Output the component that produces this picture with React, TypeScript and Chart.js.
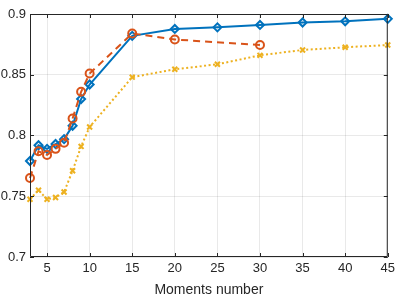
import React, { useEffect, useRef } from "react";
import { Chart, registerables } from "chart.js";
Chart.register(...registerables);

const xFull = [3, 4, 5, 6, 7, 8, 9, 10, 15, 20, 25, 30, 35, 40, 45];
const blueValues = [0.779, 0.792, 0.789, 0.793, 0.797, 0.808, 0.830, 0.842, 0.882, 0.8877, 0.889, 0.891, 0.893, 0.894, 0.896];
const xRed = [3, 4, 5, 6, 7, 8, 9, 10, 15, 20, 30];
const redValues = [0.765, 0.787, 0.784, 0.789, 0.794, 0.814, 0.836, 0.851, 0.884, 0.879, 0.8745];
const yellowValues = [0.7475, 0.755, 0.7475, 0.749, 0.7535, 0.771, 0.791, 0.807, 0.848, 0.8545, 0.8586, 0.866, 0.8704, 0.8726, 0.8745];
const xTicks = [5, 10, 15, 20, 25, 30, 35, 40, 45];
const yTicks = [0.7, 0.75, 0.8, 0.85, 0.9];
const xLabel = "Moments number";

const AXIS = "#262626";

const boxPlugin = {
  id: "box",
  afterDraw(chart: any) {
    const { ctx, chartArea: a, scales } = chart;
    ctx.save();
    ctx.strokeStyle = AXIS;
    ctx.lineWidth = 1;
    ctx.beginPath();
    ctx.rect(a.left + 0.5, a.top + 0.5, a.right - a.left - 1, a.bottom - a.top - 1);
    const L = 4;
    for (const v of xTicks) {
      const px = Math.round(scales.x.getPixelForValue(v)) + 0.5;
      ctx.moveTo(px, a.bottom);
      ctx.lineTo(px, a.bottom - L);
      ctx.moveTo(px, a.top);
      ctx.lineTo(px, a.top + L);
    }
    for (const v of yTicks) {
      const py = Math.round(scales.y.getPixelForValue(v)) + 0.5;
      ctx.moveTo(a.left, py);
      ctx.lineTo(a.left + L, py);
      ctx.moveTo(a.right, py);
      ctx.lineTo(a.right - L, py);
    }
    ctx.stroke();
    ctx.restore();
  },
};

export default function App() {
  const ref = useRef<HTMLCanvasElement>(null);
  useEffect(() => {
    document.body.style.margin = "0";
    const chart = new Chart(ref.current!, {
      type: "line",
      data: {
        datasets: [
          {
            data: xFull.map((x, i) => ({ x, y: yellowValues[i] })),
            borderColor: "#EDB120",
            backgroundColor: "#EDB120",
            borderWidth: 2,
            borderDash: [2, 2.5],
            pointStyle: "crossRot",
            pointRadius: 3.5,
            pointBorderWidth: 2,
            clip: false,
          },
          {
            data: xRed.map((x, i) => ({ x, y: redValues[i] })),
            borderColor: "#D95319",
            backgroundColor: "rgba(0,0,0,0)",
            borderWidth: 2,
            borderDash: [7, 5],
            pointStyle: "circle",
            pointRadius: 4,
            pointBorderWidth: 2,
            clip: false,
          },
          {
            data: xFull.map((x, i) => ({ x, y: blueValues[i] })),
            borderColor: "#0072BD",
            backgroundColor: "rgba(0,0,0,0)",
            borderWidth: 2,
            pointStyle: "rectRot",
            pointRadius: 4,
            pointBorderWidth: 2,
            clip: false,
          },
        ],
      },
      options: {
        animation: false,
        responsive: false,
        layout: { padding: { top: 14, right: 9, left: 0, bottom: 0 } },
        plugins: { legend: { display: false }, tooltip: { enabled: false } },
        scales: {
          x: {
            type: "linear",
            min: 3,
            max: 45,
            afterBuildTicks: (s: any) => {
              s.ticks = xTicks.map((v) => ({ value: v }));
            },
            afterFit: (s: any) => {
              s.height = 42;
            },
            grid: { color: "rgba(38,38,38,0.1)", drawTicks: false },
            border: { display: false },
            ticks: { color: AXIS, padding: 4, font: { family: "Liberation Sans", size: 13 }, maxRotation: 0 },
            title: {
              display: true,
              text: xLabel,
              color: AXIS,
              font: { family: "Liberation Sans", size: 14 },
              padding: { top: 0, bottom: 0 },
            },
          },
          y: {
            min: 0.7,
            max: 0.9,
            afterBuildTicks: (s: any) => {
              s.ticks = yTicks.map((v) => ({ value: v }));
            },
            afterFit: (s: any) => {
              s.width = 30;
            },
            grid: { color: "rgba(38,38,38,0.1)", drawTicks: false },
            border: { display: false },
            ticks: {
              color: AXIS,
              padding: 4,
              font: { family: "Liberation Sans", size: 13 },
              callback: (v: any) => String(Number(v)),
            },
          },
        },
      },
      plugins: [boxPlugin],
    });
    return () => chart.destroy();
  }, []);
  return <canvas ref={ref} width={399} height={299} style={{ display: "block" }} />;
}
